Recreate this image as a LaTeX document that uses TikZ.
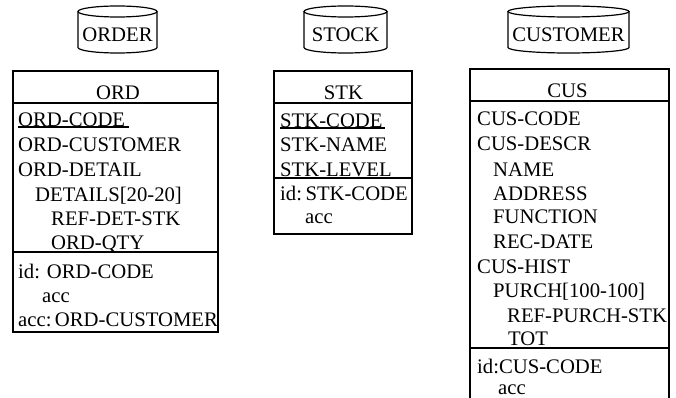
\documentclass[tikz,border=0pt]{standalone}
\usepackage{fontspec}
\setmainfont{Liberation Serif}
\newcommand{\fs}{\fontsize{20.7}{24}\selectfont}
\tikzset{
	box/.style={line width=1.2pt},
	fld/.style={anchor=base west, inner sep=0pt, font=\fs},
	hdr/.style={anchor=base, inner sep=0pt, font=\fs},
	keyline/.style={line width=1.8pt}
}
% file cylinder: (centre x:half width){name}{label}
\def\dbfile(#1:#2)#3#4{%
	\draw[box] (#1,11.5) ellipse ({#2} and 5.5);
	\draw[box] ({#1-#2},11.5) -- ({#1-#2},47.5) arc (180:0:{#2} and 5.5) -- ({#1+#2},11.5);
	\node[hdr] (#3) at (#1,42) {#4};}

\begin{document}
\begin{tikzpicture}[x=1pt,y=-1pt]
		%%%%% START %%%%%
		\useasboundingbox (0,0) rectangle (676,398);
		
		\dbfile(117.5:39.5){order}{ORDER}
		\dbfile(345.5:41.5){stock}{STOCK}
		\dbfile(568.5:60.5){customer}{CUSTOMER}
		
		%% ORD
		\draw[box] (13,71) rectangle (218,332);
		\draw[box] (13,103) -- (218,103);
		\draw[box] (13,252) -- (218,252);
		\node[hdr] (ord) at (118,100) {ORD};
		\node[fld] (ordcode) at (18,127) {ORD-CODE};
		\draw[keyline] (ordcode.base west) -- ([xshift=4pt]ordcode.base east);
		\node[fld] (ordcus) at (18,152) {ORD-CUSTOMER};
		\node[fld] (orddet) at (18,176) {ORD-DETAIL};
		\node[fld] (details) at (35,201) {DETAILS[20-20]};
		\node[fld] (refdet) at (51,225) {REF-DET-STK};
		\node[fld] (ordqty) at (51,249) {ORD-QTY};
		\node[fld] (ordid) at (18,278) {id: ORD-CODE};
		\node[fld] (ordacc) at (42,302) {acc};
		\node[fld] (ordacc2) at (18,326) {acc:\,ORD-CUSTOMER};
		
		%% STK
		\draw[box] (274,71) rectangle (412,234);
		\draw[box] (274,103) -- (412,103);
		\draw[box] (274,178) -- (412,178);
		\node[hdr] (stk) at (343.5,100) {STK};
		\node[fld] (stkcode) at (280,128) {STK-CODE};
		\draw[keyline] (stkcode.base west) -- ([xshift=2pt]stkcode.base east);
		\node[fld] (stkname) at (280,152) {STK-NAME};
		\node[fld] (stklev) at (280,176) {STK-LEVEL};
		\node[fld] (stkid) at (280,200) {id:\,STK-CODE};
		\node[fld] (stkacc) at (305,223) {acc};
		
		%% CUS
		\draw[box] (470,398) -- (470,69) -- (669,69) -- (669,398);
		\draw[box] (470,101) -- (669,101);
		\draw[box] (470,348) -- (669,348);
		\node[hdr] (cus) at (567.5,98) {CUS};
		\node[fld] (cuscode) at (477,126) {CUS-CODE};
		\node[fld] (cusdescr) at (477,150) {CUS-DESCR};
		\node[fld] (name) at (493,176) {NAME};
		\node[fld] (address) at (493,200) {ADDRESS};
		\node[fld] (function) at (493,223) {FUNCTION};
		\node[fld] (recdate) at (493,248) {REC-DATE};
		\node[fld] (cushist) at (477,273) {CUS-HIST};
		\node[fld] (purch) at (493,297) {PURCH[100-100]};
		\node[fld] (refpurch) at (507,322) {REF-PURCH-STK};
		\node[fld] (tot) at (508,345) {TOT};
		\node[fld] (cusid) at (477,373) {id:CUS-CODE};
		\node[fld] (cusacc) at (498,394.5) {acc};
		
		%%%%% END %%%%%
\end{tikzpicture}
\end{document}
